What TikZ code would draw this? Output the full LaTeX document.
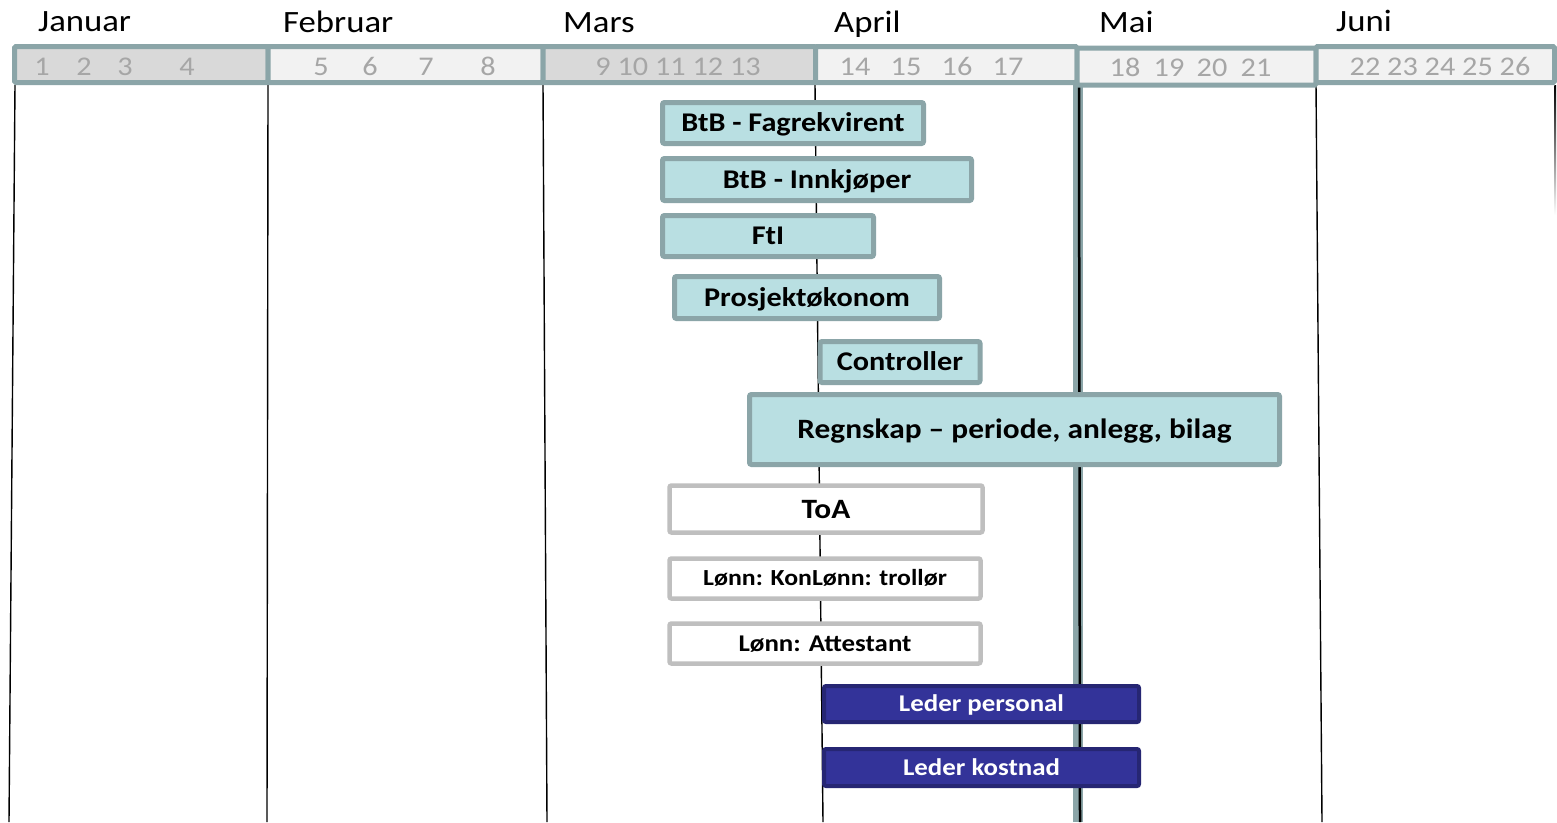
\documentclass[tikz,border=0pt]{standalone}
\usepackage{fontspec}
\setmainfont{Carlito}[FakeStretch=1.12]
\definecolor{tealline}{HTML}{8BA5A8}
\definecolor{tealfill}{HTML}{B9DFE2}
\definecolor{hdark}{HTML}{D9D9D9}
\definecolor{hlight}{HTML}{F2F2F2}
\definecolor{numgray}{HTML}{A6A6A6}
\definecolor{toaline}{HTML}{BFBFBF}
\definecolor{ledfill}{HTML}{333399}
\definecolor{ledline}{HTML}{262673}
\tikzset{
  hseg/.style={draw=tealline, line width=5pt, rounded corners=1.5pt},
  monthlbl/.style={anchor=base west, inner sep=0pt, font=\fontsize{31}{36}\selectfont},
  weeklbl/.style={anchor=base, inner sep=0pt, text=numgray, font=\fontsize{27}{32}\selectfont},
  vline/.style={draw=black, line width=1.4pt},
  boxbase/.style={rounded corners=2pt, inner sep=0pt, text depth=0pt, yshift=-1pt},
  tealbox/.style={boxbase, text height=17pt, draw=tealline, fill=tealfill, line width=5pt, font=\bfseries\fontsize{27}{30}\selectfont},
  whitebox/.style={boxbase, text height=18pt, draw=toaline, fill=white, line width=4.5pt, font=\bfseries\fontsize{28}{30}\selectfont},
  ledbox/.style={boxbase, text height=15.5pt, draw=ledline, fill=ledfill, line width=4pt, text=white, font=\bfseries\fontsize{24}{26}\selectfont},
}
\begin{document}
\begin{tikzpicture}[x=1pt,y=-1pt]
\useasboundingbox[fill=white] (0,0) rectangle (1557,822);
% vertical lines
\draw[vline] (15,85) -- (9,822);
\draw[vline] (268,85) -- (267,822);
\draw[vline] (543,85) -- (547,822);
\draw[vline] (815,85) -- (823,822);
\draw[vline] (1316,85) -- (1322,822);
\draw[draw=tealline, line width=10pt] (1078,85) -- (1078,822);
\draw[draw=black, line width=2.5pt] (1079,85) -- (1080,822);
\shade[top color=black, bottom color=white] (1554.3,85) rectangle (1556,215);
% header bar
\draw[hseg, fill=hdark] (14.5,46.5) rectangle (268,82.5);
\draw[hseg, fill=hlight] (268,46.5) rectangle (543,82.5);
\draw[hseg, fill=hdark] (543,46.5) rectangle (815.5,82.5);
\draw[hseg, fill=hlight] (815.5,46.5) rectangle (1077,82.5);
\draw[hseg, fill=hlight] (1077,48) rectangle (1316,85);
\draw[hseg, fill=hlight] (1316,46.5) rectangle (1554.5,82.5);
% months
\node[monthlbl] (mjan) at (38,31) {Januar};
\node[monthlbl] (mfeb) at (283,32) {Februar};
\node[monthlbl] (mmar) at (563,32) {Mars};
\node[monthlbl] (mapr) at (834,32) {April};
\node[monthlbl] (mmai) at (1099,32) {Mai};
\node[monthlbl] (mjun) at (1336,31) {Juni};
% week numbers
\node[weeklbl] (w1) at (42,75) {1};
\node[weeklbl] (w2) at (84,75) {2};
\node[weeklbl] (w3) at (125,75) {3};
\node[weeklbl] (w4) at (187,75) {4};
\node[weeklbl] (w5) at (321,75) {5};
\node[weeklbl] (w6) at (370,75) {6};
\node[weeklbl] (w7) at (426,75) {7};
\node[weeklbl] (w8) at (488,75) {8};
\node[weeklbl] (w9) at (678,75) {9 10 11 12 13};
\node[weeklbl] (w14) at (855,75) {14};
\node[weeklbl] (w15) at (906,75) {15};
\node[weeklbl] (w16) at (957,75) {16};
\node[weeklbl] (w17) at (1008,75) {17};
\node[weeklbl] (w18) at (1125,76) {18};
\node[weeklbl] (w19) at (1169,76) {19};
\node[weeklbl] (w20) at (1212,76) {20};
\node[weeklbl] (w21) at (1256,76) {21};
\node[weeklbl] (w22) at (1440,75) {22 23 24 25 26};
% boxes
\node[tealbox, minimum width=261pt, minimum height=41pt] (b1) at (793,122) {BtB - Fagrekvirent};
\node[tealbox, minimum width=309pt, minimum height=42pt] (b2) at (817,178.5) {BtB - Innkjøper};
\node[tealbox, minimum width=211pt, minimum height=41pt] (b3) at (768,235) {FtI};
\node[tealbox, minimum width=265pt, minimum height=42pt] (b4) at (807,296.5) {Prosjektøkonom};
\node[tealbox, minimum width=160pt, minimum height=41pt] (b5) at (900,361) {Controller};
\node[tealbox, minimum width=530pt, minimum height=70pt, text height=18pt, font=\bfseries\fontsize{28}{32}\selectfont] (b6) at (1014.5,428.5) {Regnskap – periode, anlegg, bilag};
\node[whitebox, minimum width=313pt, minimum height=47pt] (b7) at (826,508) {ToA};
\node[whitebox, minimum width=311pt, minimum height=40pt, text height=14.5pt, font=\bfseries\fontsize{23}{26}\selectfont] (b8) at (825,577.5) {Lønn: KonLønn: trollør};
\node[whitebox, minimum width=311pt, minimum height=40pt, text height=15.5pt, font=\bfseries\fontsize{24}{27}\selectfont] (b9) at (825,642.5) {Lønn: Attestant};
\node[ledbox, minimum width=315pt, minimum height=36pt] (b10) at (981.5,703) {Leder personal};
\node[ledbox, minimum width=315pt, minimum height=37pt] (b11) at (981.5,766.5) {Leder kostnad};
\end{tikzpicture}
\end{document}
